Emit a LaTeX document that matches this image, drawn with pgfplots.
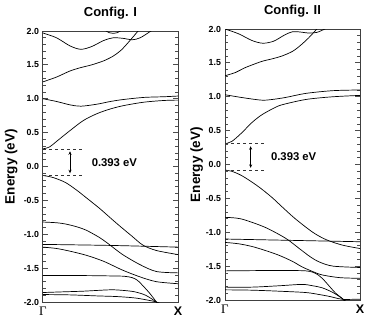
\documentclass[border=0pt]{standalone}
\usepackage{fontspec}
\setmainfont{Liberation Sans}
\newfontfamily\serifgamma{Liberation Serif}
\usepackage{pgfplots}
\pgfplotsset{compat=1.18}
\usetikzlibrary{arrows.meta}

\pgfplotsset{
  band/.style={black, solid, mark=none, line width=0.7pt, smooth, tension=0.5},
  bandaxis/.style={
    scale only axis,
    width=135pt, height=271pt,
    xmin=0, xmax=1, ymin=-2, ymax=2,
    xtick={0,1},
    xticklabels={{\serifgamma\fontsize{13}{13}\selectfont\symbol{"0393}},{\bfseries\fontsize{12.5}{12.5}\selectfont X}},
    x tick style={draw=none},
    xticklabel style={yshift=-1pt},
    ytick={-2,-1.5,...,2},
    minor y tick num=4,
    tick align=inside,
    major tick length=5pt, minor tick length=3pt,
    y tick style={black!70, line width=1pt},
    minor y tick style={black!70, line width=0.7pt},
    yticklabel style={font=\bfseries\fontsize{8.8}{8.8}\selectfont, xshift=-0.5pt,
      /pgf/number format/.cd, fixed, fixed zerofill, precision=1, assume math mode=true},
    axis line style={black!75, line width=1pt},
    ylabel={Energy (eV)},
    ylabel style={font=\bfseries\fontsize{13.5}{13.5}\selectfont},
    title style={font=\bfseries\fontsize{13}{13}\selectfont, at={(0.5,1)}, anchor=base, yshift=9pt},
    cycle list={{band}},
    clip=true,
  }
}

\begin{document}
\begin{tikzpicture}
\useasboundingbox (-43pt,-25pt) rectangle (329pt,302pt);

% Config. I
\begin{axis}[bandaxis, at={(0pt,0pt)}, anchor=south west, title={Config. I},
  ylabel style={at={(axis description cs:-0.235,0.5)}, anchor=center}]
% conduction bands
\addplot[band] coordinates {(0,0.26)(0.05,0.29)(0.1,0.37)(0.2,0.53)(0.3,0.68)(0.4,0.78)(0.5,0.85)(0.6,0.90)(0.75,0.95)(0.9,0.975)(1,0.98)};
\addplot[band] coordinates {(0,1.00)(0.1,0.96)(0.2,0.91)(0.28,0.89)(0.4,0.92)(0.5,0.96)(0.6,0.99)(0.75,1.02)(0.9,1.03)(1,1.04)};
\addplot[band] coordinates {(0,1.25)(0.1,1.32)(0.2,1.41)(0.28,1.46)(0.36,1.50)(0.45,1.56)(0.52,1.63)(0.58,1.72)(0.64,1.85)(0.7,1.99)(0.73,2.06)};
\addplot[band] coordinates {(0,1.97)(0.1,1.90)(0.2,1.78)(0.28,1.73)(0.36,1.77)(0.45,1.86)(0.52,1.90)(0.6,1.89)(0.66,1.87)(0.72,1.90)(0.8,2.0)(0.85,2.06)};
\addplot[band] coordinates {(0.46,2.01)(0.49,1.975)(0.52,1.965)(0.55,1.975)(0.58,2.01)};
% valence bands
\addplot[band] coordinates {(0,-0.133)(0.05,-0.15)(0.1,-0.18)(0.17,-0.24)(0.25,-0.35)(0.32,-0.46)(0.42,-0.62)(0.54,-0.83)(0.66,-1.03)(0.74,-1.16)(0.84,-1.24)(1,-1.30)};
\addplot[band] coordinates {(0,-0.82)(0.1,-0.83)(0.17,-0.85)(0.25,-0.89)(0.32,-0.94)(0.42,-1.05)(0.49,-1.15)(0.59,-1.30)(0.72,-1.45)(0.84,-1.55)(1,-1.57)};
\addplot[band] coordinates {(0,-1.15)(0.5,-1.165)(1,-1.19)};
\addplot[band] coordinates {(0,-1.19)(0.1,-1.21)(0.2,-1.25)(0.32,-1.31)(0.45,-1.40)(0.59,-1.53)(0.72,-1.63)(0.84,-1.70)(1,-1.73)};
\addplot[band] coordinates {(0,-1.61)(0.3,-1.61)(0.5,-1.615)(0.6,-1.62)(0.66,-1.64)(0.70,-1.68)(0.74,-1.76)(0.79,-1.87)(0.84,-2.0)(0.87,-2.08)};
\addplot[band] coordinates {(0,-1.86)(0.15,-1.85)(0.3,-1.84)(0.5,-1.82)(0.6,-1.83)(0.68,-1.85)(0.76,-1.90)(0.84,-2.0)(0.87,-2.05)};
\addplot[band] coordinates {(0,-1.89)(0.2,-1.895)(0.4,-1.91)(0.55,-1.92)(0.68,-1.94)(0.77,-1.97)(0.84,-2.0)(0.9,-2.05)};
% gap
\draw[black!80, dashed, line width=0.7pt] (axis cs:0,0.26) -- (axis cs:0.31,0.26);
\draw[black!80, dashed, line width=0.7pt] (axis cs:0,-0.133) -- (axis cs:0.31,-0.133);
\draw[black, line width=0.6pt, {Stealth[length=3.5pt,width=3pt]}-{Stealth[length=3.5pt,width=3pt]}] (axis cs:0.2,0.225) -- (axis cs:0.2,-0.10);
\node[anchor=west, font=\bfseries\fontsize{11.3}{11.3}\selectfont] at (axis cs:0.335,0.064) {0.393 eV};
\end{axis}

% Config. II
\begin{axis}[bandaxis, at={(182pt,2pt)}, anchor=south west, title={Config. II},
  ylabel style={at={(axis description cs:-0.21,0.5)}, anchor=center}]
\addplot[band] coordinates {(0,0.306)(0.05,0.34)(0.12,0.46)(0.2,0.62)(0.27,0.73)(0.35,0.82)(0.42,0.88)(0.6,0.96)(0.8,1.00)(1,1.02)};
\addplot[band] coordinates {(0,1.03)(0.12,0.99)(0.27,0.95)(0.35,0.96)(0.45,0.99)(0.6,1.05)(0.8,1.09)(1,1.10)};
\addplot[band] coordinates {(0,1.31)(0.08,1.36)(0.15,1.43)(0.27,1.52)(0.35,1.56)(0.42,1.60)(0.5,1.67)(0.56,1.76)(0.62,1.87)(0.68,2.0)(0.7,2.05)};
\addplot[band] coordinates {(0,2.0)(0.1,1.93)(0.2,1.83)(0.28,1.79)(0.36,1.82)(0.44,1.91)(0.5,1.96)(0.56,1.955)(0.62,1.94)(0.68,1.95)(0.74,2.0)(0.78,2.04)};
\addplot[band] coordinates {(0,-0.083)(0.05,-0.10)(0.12,-0.16)(0.2,-0.26)(0.27,-0.36)(0.35,-0.49)(0.42,-0.62)(0.52,-0.80)(0.65,-1.00)(0.75,-1.11)(0.87,-1.19)(1,-1.24)};
\addplot[band] coordinates {(0,-0.78)(0.08,-0.79)(0.15,-0.82)(0.3,-0.93)(0.45,-1.09)(0.55,-1.24)(0.63,-1.36)(0.70,-1.44)(0.8,-1.50)(1,-1.52)};
\addplot[band] coordinates {(0,-1.10)(0.5,-1.12)(1,-1.14)};
\addplot[band] coordinates {(0,-1.15)(0.1,-1.17)(0.2,-1.21)(0.3,-1.27)(0.4,-1.34)(0.5,-1.43)(0.57,-1.51)(0.65,-1.58)(0.72,-1.63)(0.85,-1.67)(1,-1.68)};
\addplot[band] coordinates {(0,-1.57)(0.3,-1.565)(0.5,-1.565)(0.6,-1.57)(0.65,-1.59)(0.69,-1.63)(0.73,-1.70)(0.77,-1.79)(0.82,-1.90)(0.87,-1.98)(0.9,-2.05)};
\addplot[band] coordinates {(0,-1.81)(0.2,-1.81)(0.4,-1.79)(0.57,-1.77)(0.65,-1.79)(0.72,-1.82)(0.8,-1.89)(0.87,-1.98)(0.9,-2.03)};
\addplot[band] coordinates {(0,-1.85)(0.2,-1.855)(0.4,-1.87)(0.6,-1.89)(0.7,-1.92)(0.78,-1.95)(0.84,-1.98)(0.88,-1.992)(0.95,-1.99)(1,-1.99)};
\draw[black!80, dashed, line width=0.7pt] (axis cs:0,0.306) -- (axis cs:0.30,0.306);
\draw[black!80, dashed, line width=0.7pt] (axis cs:0,-0.083) -- (axis cs:0.30,-0.083);
\draw[black, line width=0.6pt, {Stealth[length=3.5pt,width=3pt]}-{Stealth[length=3.5pt,width=3pt]}] (axis cs:0.19,0.27) -- (axis cs:0.19,-0.05);
\node[anchor=west, font=\bfseries\fontsize{11.3}{11.3}\selectfont] at (axis cs:0.315,0.11) {0.393 eV};
\end{axis}
\end{tikzpicture}
\end{document}
